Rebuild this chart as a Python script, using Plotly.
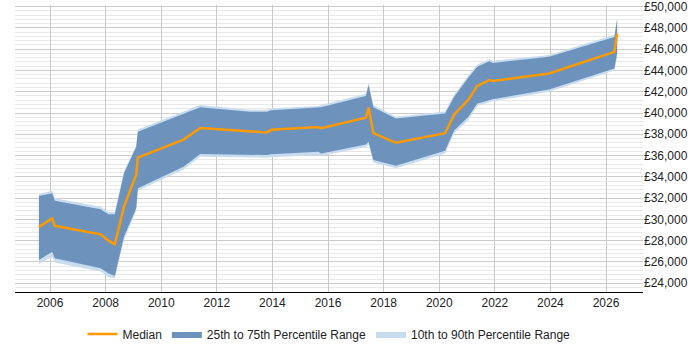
import plotly.graph_objects as go

years = [2005.6, 2006.08, 2006.17, 2007.82, 2008.1, 2008.33, 2008.66, 2009.1, 2009.16,
         2010.8, 2011.4, 2013.18, 2013.8, 2013.96, 2015.65, 2015.75, 2017.36, 2017.46,
         2017.63, 2018.44, 2020.21, 2020.54, 2021.05, 2021.37, 2021.8, 2021.92, 2023.95,
         2026.3, 2026.4]
median = [29300, 30100, 29400, 28600, 28000, 27660, 31200, 34200, 35800,
          37500, 38600, 38300, 38180, 38420, 38680, 38580, 39550, 40500,
          38100, 37200, 38100, 39870, 41250, 42550, 43090, 43000, 43720,
          45750, 47470]
p75 = [32200, 32450, 31760, 30950, 30480, 30480, 34330, 36800, 38230,
       39960, 40530, 40110, 40110, 40270, 40450, 40530, 41590, 42620,
       40530, 39490, 39960, 41520, 43340, 44340, 44870, 44710, 45280,
       47150, 48790]
p25 = [26190, 26970, 26350, 25410, 24940, 24690, 28380, 31040, 32920,
       34950, 36140, 36050, 36050, 36120, 36360, 36200, 37050, 37300,
       35580, 35040, 36450, 38390, 39640, 40900, 41250, 41300, 42220,
       44190, 45600]
p90 = [32400, 32700, 32000, 31200, 30700, 30700, 34500, 37000, 38450,
       40150, 40750, 40300, 40300, 40450, 40650, 40750, 41800, 42900,
       40750, 39650, 40150, 41750, 43550, 44550, 45050, 44900, 45450,
       47350, 49000]
p10 = [25800, 26500, 25950, 25100, 24600, 24450, 28100, 30800, 32700,
       34700, 35900, 35800, 35800, 35850, 36050, 35950, 36800, 37050,
       35350, 34800, 36200, 38100, 39350, 40650, 41050, 41100, 42000,
       44000, 45400]

ytick_vals = list(range(24000, 50001, 2000))
ytick_text = ["£{:,}".format(v) for v in ytick_vals]
xtick_vals = list(range(2006, 2027, 2))
xtick_text = [str(v) for v in xtick_vals]

dark = "#6d93bd"
light = "#c8dcef"

fig = go.Figure()
fig.add_trace(go.Scatter(x=years, y=p10, mode="lines", line=dict(width=0, color=light),
                         showlegend=False, hoverinfo="skip"))
fig.add_trace(go.Scatter(x=years, y=p90, mode="lines", line=dict(width=0, color=light),
                         fill="tonexty", fillcolor=light, name="10th to 90th Percentile Range",
                         legendrank=3))
fig.add_trace(go.Scatter(x=years, y=p25, mode="lines", line=dict(width=0, color=dark),
                         showlegend=False, hoverinfo="skip"))
fig.add_trace(go.Scatter(x=years, y=p75, mode="lines", line=dict(width=0, color=dark),
                         fill="tonexty", fillcolor=dark, name="25th to 75th Percentile Range",
                         legendrank=2))
fig.add_trace(go.Scatter(x=years, y=median, mode="lines", line=dict(width=2.5, color="#ff9900"),
                         name="Median", legendrank=1))

fig.update_layout(
    width=700, height=350,
    margin=dict(l=15, r=57, t=5, b=58, autoexpand=False),
    paper_bgcolor="white", plot_bgcolor="white",
    font=dict(family="Liberation Sans, Arial, sans-serif", size=12, color="#222"),
    showlegend=True,
    legend=dict(orientation="h", x=0.47, xanchor="center", xref="container",
                y=(350 - 334) / 350, yanchor="middle", yref="container",
                font=dict(size=12), itemwidth=30, traceorder="normal"),
    xaxis=dict(range=[2004.74, 2027.33], tickvals=xtick_vals, ticktext=xtick_text,
               showgrid=True, gridcolor="#c8c8c8", gridwidth=1,
               showline=True, linecolor="#000", linewidth=1, zeroline=False,
               ticks="", tickfont=dict(size=12)),
    yaxis=dict(range=[23180, 50150], side="right", tickvals=ytick_vals, ticktext=ytick_text,
               showgrid=True, gridcolor="#cccccc", gridwidth=1, zeroline=False,
               showline=False, ticks="", tickfont=dict(size=12), ticklabeloverflow="allow",
               minor=dict(dtick=400, tick0=0, showgrid=True, gridcolor="#e8e8e8", gridwidth=1)),
)

fig.write_html("out.html")
